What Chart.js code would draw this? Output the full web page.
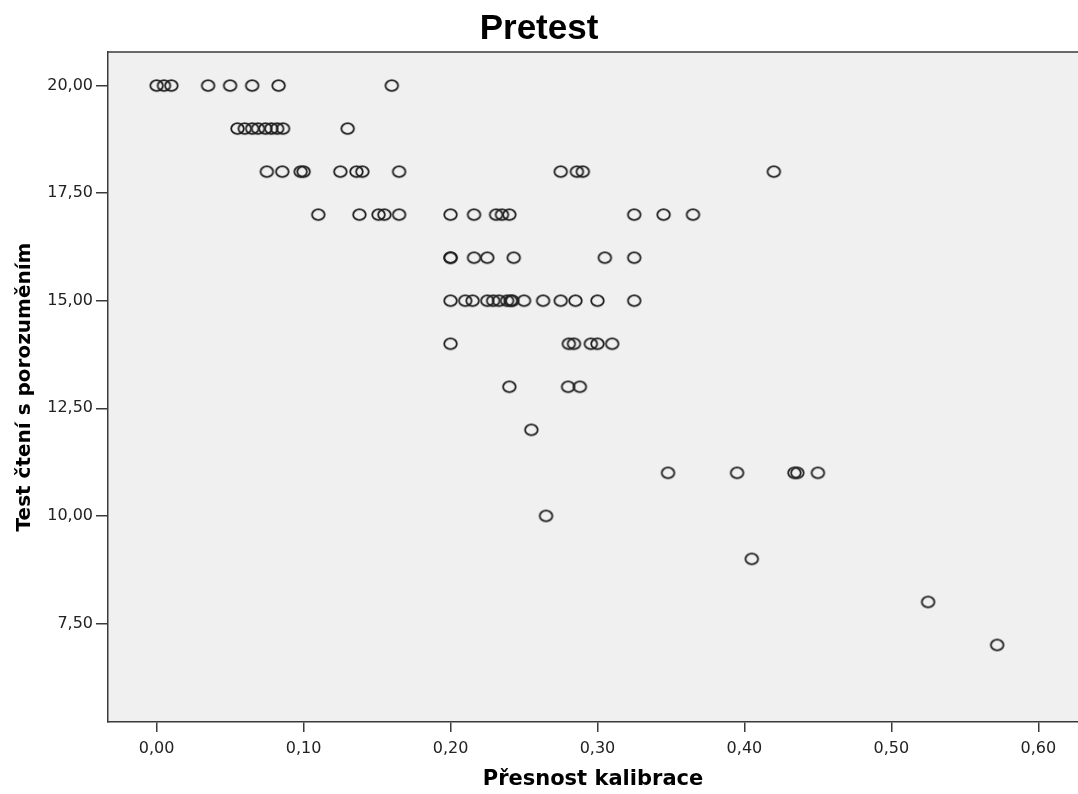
<!DOCTYPE html>
<html>
<head>
<meta charset="utf-8">
<script src="https://cdn.jsdelivr.net/npm/chart.js@4/dist/chart.umd.min.js"></script>
<style>
  html, body { margin: 0; padding: 0; background: #fff; }
  #wrap { width: 1078px; height: 794px; }
</style>
</head>
<body>
<div id="wrap"><canvas id="scatter"></canvas></div>
<script>
// reading test score (y) for each row of points
const scores = [20, 19, 18, 17, 16, 15, 14, 13, 12, 11, 10, 9, 8, 7];

// calibration accuracy (x) of the points in each row, same order as scores
const calib20 = [0.000, 0.005, 0.010, 0.035, 0.050, 0.065, 0.083, 0.160];
const calib19 = [0.055, 0.060, 0.065, 0.069, 0.074, 0.078, 0.082, 0.086, 0.130];
const calib18 = [0.075, 0.0855, 0.098, 0.100, 0.125, 0.136, 0.140, 0.165, 0.275, 0.286, 0.290, 0.420];
const calib17 = [0.110, 0.138, 0.151, 0.155, 0.165, 0.200, 0.216, 0.231, 0.235, 0.240, 0.325, 0.345, 0.365];
const calib16 = [0.200, 0.200, 0.216, 0.225, 0.243, 0.305, 0.325];
const calib15 = [0.200, 0.210, 0.215, 0.225, 0.229, 0.233, 0.2385, 0.241, 0.242, 0.250, 0.263, 0.275, 0.285, 0.300, 0.325];
const calib14 = [0.200, 0.2805, 0.284, 0.2955, 0.300, 0.310];
const calib13 = [0.240, 0.280, 0.288];
const calib12 = [0.255];
const calib11 = [0.348, 0.395, 0.434, 0.436, 0.450];
const calib10 = [0.265];
const calib9 = [0.405];
const calib8 = [0.525];
const calib7 = [0.572];

const rows = [calib20, calib19, calib18, calib17, calib16, calib15, calib14,
  calib13, calib12, calib11, calib10, calib9, calib8, calib7];

const xTicks = [0, 0.1, 0.2, 0.3, 0.4, 0.5, 0.6];
const yTicks = [7.5, 10, 12.5, 15, 17.5, 20];

const points = [];
rows.forEach((row, i) => {
  row.forEach((x) => points.push({ x: x, y: scores[i] }));
});

// hollow, slightly wide ring like the SPSS marker
function ringMarker() {
  const c = document.createElement("canvas");
  c.width = 17;
  c.height = 15;
  const g = c.getContext("2d");
  g.strokeStyle = "#1e1e1e";
  g.lineWidth = 1.8;
  g.beginPath();
  g.ellipse(8.5, 7.5, 6.3, 5.3, 0, 0, Math.PI * 2);
  g.stroke();
  return c;
}

const plotBox = {
  id: "plotBox",
  beforeDraw(chart) {
    const a = chart.chartArea;
    const ctx = chart.ctx;
    ctx.save();
    ctx.fillStyle = "#f0f0f0";
    ctx.fillRect(a.left, a.top, a.right - a.left, a.bottom - a.top);
    ctx.strokeStyle = "#3a3a3a";
    ctx.lineWidth = 1.5;
    ctx.beginPath();
    ctx.moveTo(a.left, a.top);
    ctx.lineTo(a.right, a.top);
    ctx.stroke();
    ctx.restore();
  },
};

const comma = (v) => v.toFixed(2).replace(".", ",");

new Chart(document.getElementById("scatter"), {
  type: "scatter",
  data: {
    datasets: [{
      data: points,
      pointStyle: ringMarker(),
      pointRadius: 7,
      pointHoverRadius: 7,
    }],
  },
  options: {
    responsive: true,
    maintainAspectRatio: false,
    animation: false,
    layout: { padding: 0, autoPadding: false },
    plugins: {
      legend: { display: false },
      tooltip: { enabled: false },
      title: {
        display: true,
        text: "Pretest",
        color: "#000",
        font: { family: "Liberation Sans", size: 35, weight: "bold" },
        padding: { top: 8, bottom: 2 },
      },
    },
    scales: {
      x: {
        type: "linear",
        min: -0.0331,
        max: 0.627,
        afterBuildTicks: (s) => { s.ticks = xTicks.map((v) => ({ value: v })); },
        afterFit: (s) => {
          s.height = 72;
          s.paddingLeft = 0;
          s.paddingRight = 0;
        },
        grid: { drawOnChartArea: false, tickLength: 10, color: "#3a3a3a", lineWidth: 1.5 },
        border: { display: true, color: "#3a3a3a", width: 1.5 },
        ticks: {
          color: "#222",
          padding: 7,
          maxRotation: 0,
          font: { family: "DejaVu Sans", size: 16 },
          callback: (v) => comma(v),
        },
        title: {
          display: true,
          text: "Přesnost kalibrace",
          color: "#000",
          font: { family: "DejaVu Sans", size: 21, weight: "bold" },
          padding: { top: 0, bottom: 2 },
        },
      },
      y: {
        type: "linear",
        min: 5.21,
        max: 20.78,
        afterBuildTicks: (s) => { s.ticks = yTicks.map((v) => ({ value: v })); },
        afterFit: (s) => {
          s.width = 108;
          s.paddingTop = 0;
          s.paddingBottom = 0;
        },
        grid: { drawOnChartArea: false, tickLength: 12, color: "#3a3a3a", lineWidth: 1.5 },
        border: { display: true, color: "#3a3a3a", width: 1.5 },
        ticks: {
          color: "#222",
          padding: 3,
          font: { family: "DejaVu Sans", size: 16 },
          callback: (v) => comma(v),
        },
        title: {
          display: true,
          text: "Test čtení s porozuměním",
          color: "#000",
          font: { family: "DejaVu Sans", size: 20, weight: "bold" },
          padding: { top: 13, bottom: 0 },
        },
      },
    },
  },
  plugins: [plotBox],
});
</script>
</body>
</html>
